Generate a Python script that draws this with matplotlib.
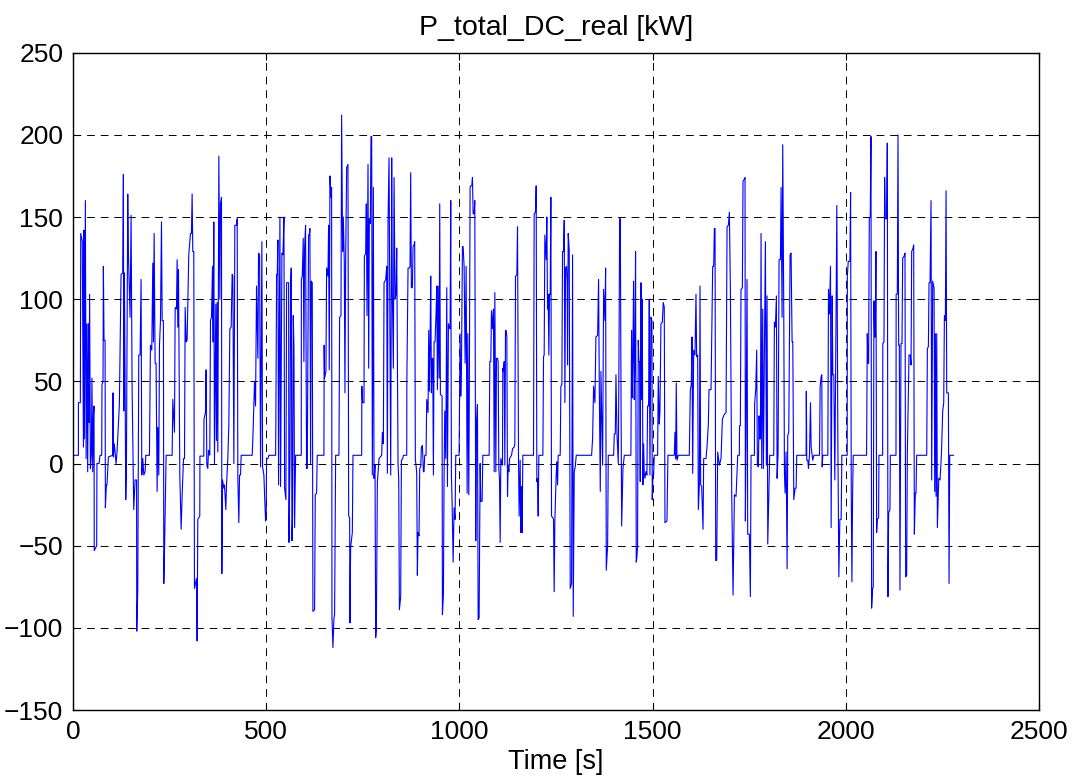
import numpy as np
import matplotlib
matplotlib.use("Agg")
import matplotlib.pyplot as plt

# P_total_DC_real [kW], as (time [s], power [kW]) breakpoints
trace_0_300 = [
    (0, 5), (14, 5), (14, 37), (19, 37), (20, 140), (24, 135), (27, 10), (28, 142), (29.4, 15),
    (32, 160), (34, 3), (36, 85), (38, -5), (40, 85), (41.5, 25), (43, 103), (45, -3), (47.5, 5),
    (49, 52), (51, -5), (53, 30), (54.4, 35), (55, -53), (61.3, -50), (62, 0), (67.4, 0), (70, 5),
    (74.3, 5), (75, 48), (77.7, 50), (78.6, 120), (80.3, 75), (83, 75), (83.8, -27), (86.4, -13),
    (88, -13), (91.6, 4), (102.8, 5), (103.5, 43), (104.5, 4), (107, 12), (111.4, 0), (114, 7),
    (120, 36), (124.4, 115), (128.7, 116), (130.4, 176), (131.3, 32), (133, 116), (134.8, 52),
    (136.5, -22), (138.2, -5), (141.7, 164), (143.4, 127), (147.7, 89), (150.3, 151), (153, 45),
    (157.2, -28), (160.7, -10), (164.5, -10), (165, -102), (167.6, -77), (170.2, 66), (173.6, 66),
    (176.2, 112), (178, -7), (180.6, 3), (183.2, -7), (186.6, -5), (188.3, 5), (197.8, 5),
    (200.4, 72), (203.9, 69), (206.5, 122), (208.2, 74), (210, 140), (212.5, 61), (215, 61),
    (217.7, -17), (219.4, 22), (222, -7), (223.8, 72), (226.4, 87), (229, 147), (230.7, 87),
    (234, 87), (235, -73), (236.7, -55), (241, 5), (256.6, 5), (258.3, 39), (262.6, 19),
    (264.4, 95), (267.8, 94), (269.5, 124), (271.3, 83), (273, 118), (276.4, -7), (279.9, -40),
    (282.5, -19), (286, 3), (288.6, 3), (290.3, 95), (292.9, 74),
]
trace_300_590 = [
    (295.3, 75), (299.6, 127), (304, 140), (306.5, 140), (308.3, 164), (310, 129), (312.6, 129),
    (314.3, -76), (319.5, -70), (321.2, -108), (323, -34), (328.1, -32), (328.5, 4.5), (338.5, 4.5),
    (339, 27), (342.8, 31), (344.5, 57), (346.3, -1), (348.9, -3), (350.6, 8), (354, 5), (355.8, 87),
    (358.4, 89), (361, 120), (362.7, 74), (364.4, 147), (366.1, 0), (369.6, 97), (371.3, 14),
    (373, 98), (374.8, 7), (377.4, 187), (380, 100), (381.7, 158), (384.3, 162), (385.2, -67),
    (386.9, -10), (390.3, -15), (392.1, -13), (395.5, -28), (397.3, -13), (400.7, 3), (403.3, 24),
    (405.9, 82), (409.3, 83), (411.9, 115), (413.7, 114), (414.5, 75), (416.3, 0), (418.8, 145),
    (423.2, 145), (424.9, 149), (426.6, -9), (429.2, -36), (431, -7), (433.5, -7), (435.3, 5),
    (463.8, 5), (466.4, 22), (469.8, 50), (472.4, 35), (475, 108), (478.5, 64), (480.2, 128),
    (482.8, 127), (485.4, -2), (488.8, 135), (490.6, -2), (494, -7), (498.3, -35), (500, -34),
    (500.9, 3), (504.4, 3), (507, 5), (524.3, 5), (525, 24), (526.9, 115), (528.6, 115),
    (530.3, 136), (532, -13), (535.5, 150), (537.2, -14), (540.7, 128), (543.3, 127), (545.9, 150),
    (547.6, -15), (551, -22), (552.8, 110), (558, 110), (558.8, -48), (561.4, 2), (563.1, 111),
    (564.9, 119), (566.6, -47), (568.3, -32), (570, 90), (571.8, 72), (573.5, -39), (576.1, 5),
    (585.6, 5),
]
trace_590_870 = [
    (590.7, 5), (591, 112), (593.3, 114), (595.9, 137), (597.6, 62), (599.3, 131), (601.9, 145),
    (604.5, -3), (606.2, -3), (609.7, 139), (611.4, 139), (613.1, 143), (614.9, 0), (616.6, 111),
    (619.2, 110), (620.9, -90), (625.2, -89), (627, -19), (630.4, -18), (632.1, 5), (649.4, 5),
    (650, 72), (651.1, 52), (654.6, 56), (656.3, 119), (659.8, 114), (661.5, 145), (663.2, 57),
    (665, 175), (667.6, 162), (669.3, 168), (670.2, -94), (672.7, -112), (675.3, -94), (677, -92),
    (679.7, 5), (688.3, 5), (690, 89), (693.5, 90), (695.2, 212), (697.8, 129), (699.5, 150),
    (702.1, 123), (703.8, 43), (705.6, 123), (708.2, 180), (711.6, 182), (713.4, -32), (716, -33),
    (716.8, -97), (718.5, -51), (722.9, -42), (724.6, 5), (747.1, 5), (747.5, 47), (749.6, 37),
    (753.1, 37), (754, 126), (757.4, 128), (759.1, 158), (760.9, 90), (763.5, 182), (765.2, 58),
    (766.9, 149), (769.5, 146), (771.2, 199), (773, 199), (774.7, -7), (777.3, 168), (779, -9),
    (781.6, -1), (783.3, -106), (785.1, -101), (787.7, -11), (789.4, -6), (792, 3), (798.9, 5),
    (800.6, 19), (803.2, 12), (805, 110), (809.3, 112), (811.9, 120), (813.6, -6), (815.3, 147),
    (817.9, 186), (822.2, -7), (824.8, 186), (826.5, 103), (829.1, 58), (830.9, 174), (833.5, 100),
    (836, 103), (837.8, 131), (841.2, 0), (843, -10), (844.7, -89), (848.1, -81), (849.9, 2),
    (853.3, 3), (855, 5), (863.7, 5), (864, 50), (867.1, 119), (870.6, 119),
]
trace_870_1150 = [
    (872.2, 120), (873.9, 177), (875.7, 107), (878.3, 107), (880, 132), (882.6, 133), (884.3, 135),
    (886, 2), (887.8, -1), (889.5, -6), (891.2, -68), (893, -42), (895.5, -44), (897.3, -3),
    (899.9, -2), (901.6, 10), (904.2, 11), (906.8, -5), (908.5, -5), (910.2, 5), (913.7, 5),
    (915.4, 39), (918.9, 31), (920.6, 81), (922.3, 44), (924, 70), (925.8, 114), (927.5, 43),
    (929.2, 64), (931, 64), (932.7, -7), (934.4, 74), (937, 74), (939.6, 92), (941.3, 108),
    (943.1, 45), (944.8, 108), (947.4, 52), (949.1, 158), (950.8, 42), (955.2, 41), (956, -92),
    (958.6, -80), (960.3, -10), (962.1, 32), (964.7, 3), (967.3, 107), (969, -14), (971.6, 85),
    (973.3, 83), (975.9, 82), (977.6, 160), (979.3, -7), (981.1, -23), (983.7, -60), (986.3, -27),
    (988.8, -34), (990.6, 5), (999.2, 5), (1001.8, 79), (1003.5, 41), (1005.3, 58), (1007.9, 132),
    (1009.6, 132), (1012.2, 120), (1014.8, 61), (1017.4, 120), (1020, -18), (1021.7, 79),
    (1024.3, -19), (1026, 61), (1027.7, 168), (1029.5, 169), (1032, 169), (1033.8, 174),
    (1035.5, 152), (1038.1, 152), (1039.8, 160), (1042.4, -47), (1044.1, 24), (1046.7, 36),
    (1048.5, -95), (1051, -94), (1053.7, 0), (1055.4, -23), (1058.8, -23), (1060.6, 5), (1077, 5),
    (1078.7, 62), (1081.3, 62), (1083, 93), (1085.6, 82), (1088.2, 94), (1090, -5), (1091.7, 104),
    (1094.3, -5), (1096, 64), (1098.6, 64), (1100.3, 62), (1102, -3), (1103.8, -10), (1105.5, -48),
    (1107.2, 3), (1111.5, -1), (1112.4, 58), (1114.1, 56), (1115.9, 62), (1117.6, -1), (1119.3, 81),
    (1121, 81), (1122.8, 77), (1124.5, -20), (1126.2, -1), (1128, -5), (1129.7, 3), (1134.9, 5),
    (1137.5, 9), (1141.8, 10), (1143.5, 12), (1145.2, 114), (1148.7, 115), (1150.4, 144),
]
trace_1150_1440 = [
    (1152.9, 5), (1154.6, -32), (1157.2, 2), (1159, -42), (1160.7, -14), (1162.4, -42), (1164.1, 5),
    (1191.8, 5), (1193.5, 152), (1197, 153), (1198.7, 169), (1200.4, -11), (1202.1, -9),
    (1203.9, -32), (1205.6, 5), (1216, 5), (1217.7, 65), (1219.4, 66), (1221.1, 139), (1224.6, 124),
    (1226.3, 150), (1228, 94), (1229.8, 103), (1231.5, 66), (1233.2, 103), (1235, 103),
    (1236.7, 162), (1238.4, -32), (1241.9, -33), (1243.6, -34), (1245.3, -78), (1247.1, -34),
    (1250.5, -7), (1252.3, 1), (1254, -13), (1255.7, 5), (1260.9, 5), (1262.6, 47), (1265.2, 48),
    (1266.9, 129), (1269.5, 129), (1271.3, 148), (1273, 37), (1274.7, 119), (1277.3, 120),
    (1279, 110), (1279.9, 60), (1281.6, 140), (1284.2, 130), (1286.8, -76), (1290.3, -73),
    (1292.9, 127), (1294.6, -93), (1297.2, -5), (1299.8, -2), (1302.4, 5), (1342.1, 5),
    (1344.7, 15), (1347.3, 47), (1350.7, 37), (1353.3, 77), (1357.7, 78), (1360.2, 112), (1362, 48),
    (1364.6, -17), (1366.3, 56), (1370.6, -1), (1373.2, 106), (1376.7, 87), (1378.4, 119),
    (1380.1, -65), (1383.6, -50), (1385.3, 5), (1399.1, 5), (1400.9, 18), (1403.5, 18),
    (1405.2, 54), (1407.8, 18), (1411.2, 0), (1413, 66), (1414.7, 149), (1416.4, 149), (1418.1, 50),
    (1419.9, -38), (1423.3, -3), (1426.8, 5), (1440.6, 5),
]
trace_1440_1720 = [
    (1443.8, 5), (1445.6, 81), (1447.3, 40), (1449, 64), (1450.8, 111), (1452.5, 39), (1454.2, 64),
    (1455.9, 129), (1457.7, -60), (1459.4, -57), (1461.1, -50), (1462.9, 75), (1464.6, 62),
    (1466.3, 62), (1468, -11), (1469.8, 110), (1471.5, 39), (1473.2, 100), (1474.9, -13),
    (1476.7, 12), (1478.4, -6), (1480.1, -9), (1482.7, -5), (1485.3, -7), (1487, 35), (1489.6, 35),
    (1491.4, 100), (1493.1, -7), (1495.7, 89), (1498.3, 87), (1499.1, -22), (1500.9, -7),
    (1502.6, -7), (1504.3, 5), (1513, 5), (1514.7, 53), (1517.3, 24), (1519, 32), (1521.6, 85),
    (1525.1, 86), (1527.6, 98), (1530.2, 95), (1532, -36), (1537.2, -35), (1539.7, 5), (1556.2, 5),
    (1557.9, 19), (1559.6, 3), (1561.3, 49), (1563.1, 2), (1566.5, 5), (1595, 5), (1597.6, 45),
    (1600.2, 48), (1602, 77), (1603.7, -6), (1606.3, 69), (1609.7, 66), (1612.3, 103), (1614, 65),
    (1616.6, 66), (1618.4, -28), (1621, -13), (1622.7, 108), (1624.4, -13), (1627, -14),
    (1630.5, -40), (1632.2, 3), (1638.2, 3), (1640.8, 10), (1644.3, 24), (1646, 45), (1651.2, 45),
    (1655.5, 120), (1658.1, 120), (1659.8, 143), (1661.6, 143), (1663.3, -59), (1665.9, -59),
    (1668.5, 7), (1672.8, -1), (1677.1, 3), (1680.6, 27), (1685.8, 30), (1690.1, 31), (1692.7, 144),
    (1696.1, 145), (1698.7, 153), (1701.3, 106), (1704.8, -19), (1708.2, -80), (1711.7, -19),
    (1716, -20), (1720.3, 5),
]
trace_1720_2005 = [
    (1724.5, 5), (1725, 23), (1727.1, 23), (1728.8, 106), (1732.3, 107), (1734, 172), (1737.5, 173),
    (1739.2, 174), (1740.1, -35), (1741.8, 16), (1744.4, 112), (1746.1, -43), (1750.4, -43),
    (1753, -81), (1754.8, 5), (1763.4, 5), (1764, 36), (1766.9, 45), (1769.4, 69), (1771.2, -1),
    (1773.8, -2), (1775.5, 29), (1777.2, 15), (1779, 15), (1780.7, 140), (1782.4, -3), (1785, 94),
    (1786.7, -3), (1789.3, 64), (1791.9, 135), (1794.5, -1), (1796.2, 102), (1798, -49),
    (1799.7, -30), (1803.1, 5), (1813.5, 5), (1815.2, 86), (1817.8, 83), (1820.4, 102),
    (1822.2, -9), (1824.7, 6), (1827.3, 124), (1830.8, 124), (1832.5, 168), (1835.1, 89),
    (1836.8, 194), (1839.4, 95), (1841.2, -6), (1842.9, -18), (1845.5, 7), (1848.1, -64),
    (1849.8, 17), (1852.4, 19), (1855.8, 127), (1858.4, 128), (1861, 74), (1862.8, 74),
    (1865.4, -22), (1868.8, -15), (1871.4, -15), (1873.1, 5), (1897.3, 5), (1897.8, 44), (1899, 2),
    (1901.6, 2), (1903.4, -3), (1906, 5), (1908.6, 37), (1910.3, 10), (1914.6, 2), (1917.2, 5),
    (1931.9, 5), (1933.6, 47), (1936.2, 53), (1937.9, 54), (1938.8, -2), (1940.5, 5), (1953.5, 5),
    (1955.2, 106), (1957.8, 91), (1960.4, 120), (1962.1, -39), (1964.7, 102), (1966.4, 54),
    (1969, 54), (1971.6, -10), (1974.2, 72), (1976.8, 157), (1979.4, 16), (1982, -69),
    (1984.6, -34), (1988, -34), (1989.8, 5), (2003.6, 5), (2004, 114),
]
trace_2005_2280 = [
    (2006.3, 123), (2010.6, 123), (2012.4, 165), (2014.1, -18), (2015.8, -72), (2017.6, -18),
    (2019.3, 5), (2053.8, 5), (2055.6, 79), (2057.3, 61), (2059, 61), (2060.8, 149), (2063.3, 150),
    (2065.1, 199), (2066.8, -88), (2069.4, -76), (2071.1, -75), (2072.8, 99), (2074.6, 77),
    (2076.3, 77), (2078, 129), (2079.8, -42), (2081.5, -34), (2084.9, -33), (2085.8, 5),
    (2095.3, 5), (2095.8, 73), (2098.8, 74), (2100.5, 174), (2102.2, 149), (2105.7, 149),
    (2107.4, 195), (2109.1, -81), (2110.9, -30), (2114.3, -28), (2115.2, 5), (2129.9, 5),
    (2130.3, 103), (2133.3, 103), (2135.1, 200), (2136.8, 72), (2138.5, 72), (2140.2, -77),
    (2142.8, 73), (2145.4, 73), (2147.2, 125), (2150.6, 126), (2153.2, 128), (2154.9, -69),
    (2157.5, -68), (2159.2, 5), (2163.6, 66), (2167, 66), (2168.8, 60), (2170.5, 129),
    (2173.9, 131), (2175.7, 133), (2177.4, -43), (2180, -18), (2181.7, -18), (2183.4, 5),
    (2209.4, 5), (2211.1, 70), (2213.7, 71), (2215.4, 110), (2218, 110), (2220.6, 160),
    (2222.3, -10), (2224.9, 111), (2228.4, 107), (2230.1, -17), (2231.8, 79), (2233.6, -20),
    (2235.3, 79), (2237, -39), (2240.5, -9), (2243.9, -10), (2247.4, 5), (2250.8, 32), (2253.4, 37),
    (2255.2, 90), (2257.7, 87), (2259.5, 166), (2261.2, 43), (2265.5, 43), (2267.2, -73),
    (2269, 5), (2278.5, 5),
]

segments = [trace_0_300, trace_300_590, trace_590_870, trace_870_1150,
            trace_1150_1440, trace_1440_1720, trace_1720_2005, trace_2005_2280]
data = np.array([p for seg in segments for p in seg])
time_s = data[:, 0]
p_kw = data[:, 1]

plt.rcParams['font.family'] = ['Liberation Sans', 'DejaVu Sans']

fig = plt.figure(figsize=(10.79, 7.78), dpi=100)
ax = fig.add_axes([73 / 1079, 1 - 710 / 778, (1039 - 73) / 1079, (710 - 52.7) / 778])

ax.plot(time_s, p_kw, color=(0, 0, 1), linewidth=0.8)

ax.set_xlim(0, 2500)
ax.set_ylim(-150, 250)
ax.set_xticks(np.arange(0, 2501, 500))
ax.set_yticks(np.arange(-150, 251, 50))

# matlab style dashed grid
ax.grid(True, color='black', linestyle=(0, (8, 6)), linewidth=0.7)
ax.set_axisbelow(True)

ax.tick_params(direction='in', length=5, width=0.8, top=True, right=True,
               labelsize=19, pad=7)
for s in ax.spines.values():
    s.set_linewidth(1.0)

ax.set_title('P_total_DC_real [kW]', fontsize=20.5, pad=13)
ax.set_xlabel('Time [s]', fontsize=19.5, labelpad=4)

fig.savefig('out.png', dpi=100)
